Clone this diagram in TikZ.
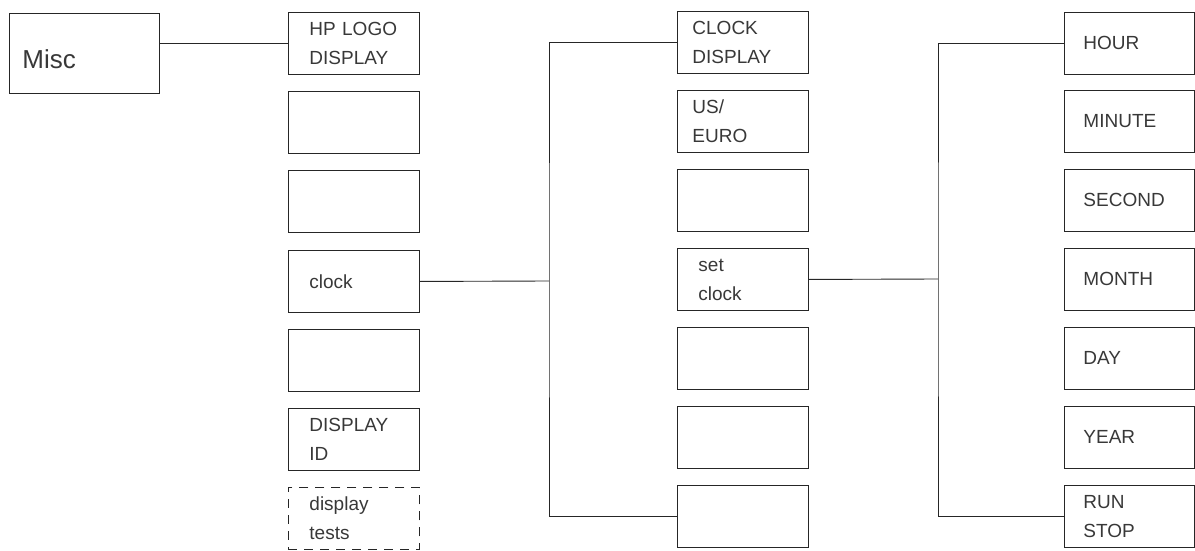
\documentclass[tikz,border=0pt]{standalone}
\usepackage{fontspec}
\setmainfont{Liberation Sans}
\begin{document}
\begin{tikzpicture}[x=1pt,y=-1pt,
  every node/.style={font=\fontsize{19}{29}\selectfont, text=black!78},
  mbox/.style={draw=black!85, line width=0.9pt, rectangle, anchor=north west,
     minimum height=62pt, align=left, inner ysep=0pt},
  colA/.style={mbox, text width=89pt, inner xsep=21pt},
  colB/.style={mbox, text width=95pt, inner xsep=18pt},
  colC/.style={mbox, text width=92pt, inner xsep=19pt},
  dashbox/.style={dash pattern=on 9pt off 7pt},
  conn/.style={draw=black!85, line width=0.9pt}]
\useasboundingbox (0,0) rectangle (1195,551);
% Misc
\node[mbox, text width=124pt, inner xsep=13pt, minimum height=80pt,
  font=\fontsize{26}{30}\selectfont] (misc) at (9,13) {\raisebox{-6pt}[19pt][0pt]{Misc}};
% column 2
\node[colA] (a1) at (288,12)  {HP LOGO\\DISPLAY};
\node[colA] (a2) at (288,91)  {};
\node[colA] (a3) at (288,170) {};
\node[colA] (a4) at (288,250) {clock};
\node[colA] (a5) at (288,329) {};
\node[colA] (a6) at (288,408) {DISPLAY\\ID};
\node[colA, dashbox] (a7) at (288,487) {display\\tests};
% column 3
\node[colB, inner xsep=15pt, text width=101pt] (b1) at (677,11) {CLOCK\\DISPLAY};
\node[colB, inner xsep=15pt, text width=101pt] (b2) at (677,90) {US/\\EURO};
\node[colB] (b3) at (677,169) {};
\node[colB, inner xsep=21pt, text width=89pt] (b4) at (677,248) {set\\clock};
\node[colB] (b5) at (677,327) {};
\node[colB] (b6) at (677,406) {};
\node[colB] (b7) at (677,485) {};
% column 4
\node[colC] (c1) at (1064,12)  {HOUR};
\node[colC] (c2) at (1064,90)  {MINUTE};
\node[colC] (c3) at (1064,169) {SECOND};
\node[colC] (c4) at (1064,248) {MONTH};
\node[colC] (c5) at (1064,327) {DAY};
\node[colC] (c6) at (1064,406) {YEAR};
\node[colC] (c7) at (1064,485) {RUN\\STOP};
% connectors
\coordinate (j1) at (549,281);
\coordinate (j2) at (938,279);
\draw[conn] (misc.east |- a1.west) -- (a1.west);
\draw[conn] (a4.east) -- (j1);
\draw[conn] (b1.west) -| (j1) |- (b7.west);
\draw[conn] (b4.east) -- (j2);
\draw[conn] (c1.west) -| (j2) |- (c7.west);
\end{tikzpicture}
\end{document}
